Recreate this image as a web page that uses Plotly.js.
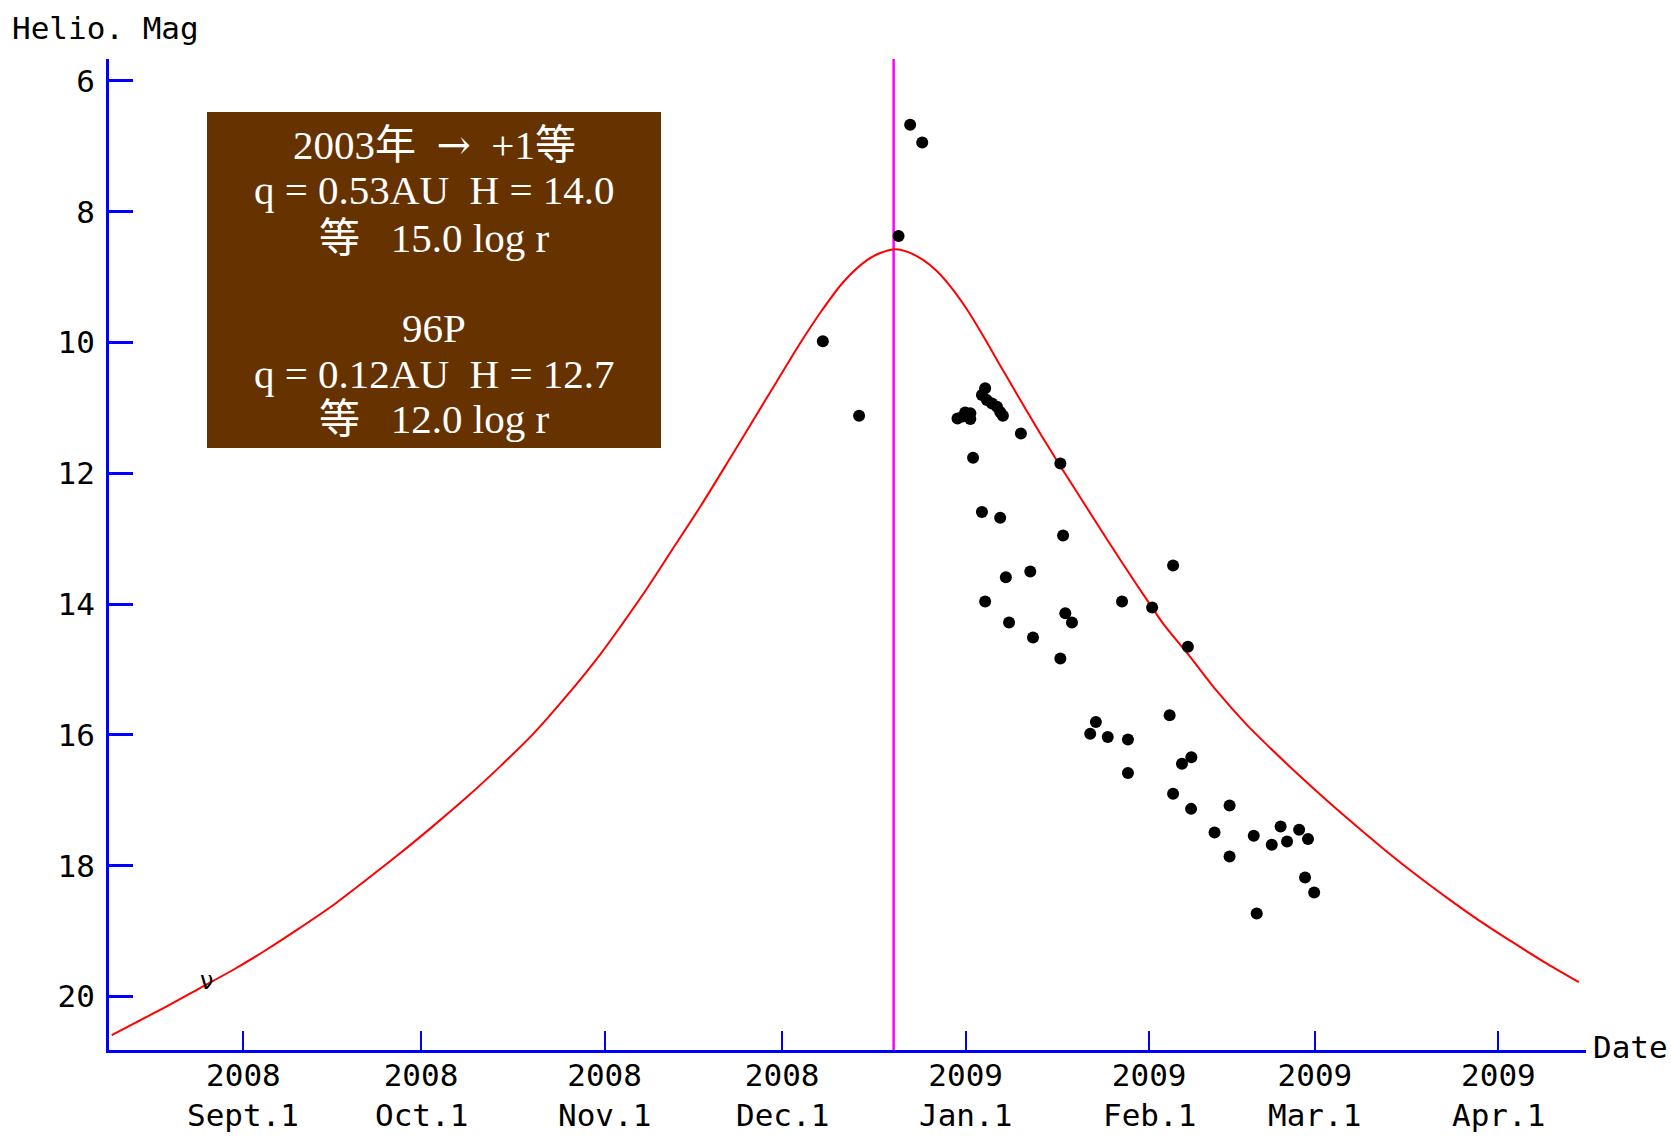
<!DOCTYPE html>
<html>
<head>
<meta charset="utf-8">
<script src="https://cdn.plot.ly/plotly-3.0.1.min.js"></script>
<style>html,body{margin:0;padding:0;background:#fff;}#chart{width:1671px;height:1139px;}</style>
</head>
<body>
<div id="chart"></div>
<script>
// ---- data ----
const curveDates = ["2008-08-09 18:00","2008-08-13 23:00","2008-08-19 01:00","2008-08-24 16:00","2008-08-30 07:00",
  "2008-09-04 23:00","2008-09-10 13:00","2008-09-16 05:00","2008-09-21 20:00","2008-09-27 11:00",
  "2008-10-03 02:00","2008-10-08 18:00","2008-10-14 09:00","2008-10-20 00:00","2008-10-25 15:00",
  "2008-10-31 06:00","2008-11-03 15:00","2008-11-08 04:00","2008-11-12 22:00","2008-11-17 04:00",
  "2008-11-21 16:00","2008-11-26 04:00","2008-11-30 03:00","2008-12-04 01:00","2008-12-07 17:00",
  "2008-12-11 09:00","2008-12-15 08:00","2008-12-17 14:00","2008-12-19 20:00","2008-12-22 02:00",
  "2008-12-24 21:00","2008-12-27 04:00","2008-12-29 10:00","2009-01-01 05:00","2009-01-04 01:00",
  "2009-01-06 20:00","2009-01-09 16:00","2009-01-12 11:00","2009-01-15 07:00","2009-01-17 00:00",
  "2009-01-20 16:00","2009-01-25 04:00","2009-01-29 23:00","2009-02-01 12:00","2009-02-03 11:00",
  "2009-02-07 23:00","2009-02-12 11:00","2009-02-17 13:00","2009-02-21 11:00","2009-02-26 00:00",
  "2009-03-02 12:00","2009-03-06 10:00","2009-03-12 01:00","2009-03-17 17:00","2009-03-23 08:00",
  "2009-03-28 23:00","2009-04-03 14:00","2009-04-09 06:00","2009-04-14 14:00"];
const curveMag = [20.59,20.39,20.15,19.87,19.59,
  19.28,18.95,18.60,18.21,17.81,
  17.39,16.95,16.48,15.98,15.40,
  14.77,14.35,13.76,13.10,12.51,
  11.85,11.18,10.59,10.01,9.51,
  9.07,8.74,8.63,8.575,8.61,
  8.74,8.91,9.14,9.49,9.91,
  10.35,10.79,11.22,11.64,11.89,
  12.41,13.05,13.71,14.05,14.31,
  14.81,15.33,15.85,16.20,16.59,
  16.96,17.27,17.70,18.11,18.49,
  18.85,19.18,19.50,19.78];

const obsDates = ["2008-12-07 21:00","2008-12-14 00:00","2008-12-20 16:00","2008-12-22 15:00","2008-12-24 16:00",
  "2008-12-30 15:00","2008-12-31 13:00","2008-12-31 22:00","2009-01-01 19:00","2009-01-01 19:00",
  "2009-01-02 06:00","2009-01-03 18:00","2009-01-03 18:00","2009-01-04 07:00","2009-01-04 07:00",
  "2009-01-04 14:00","2009-01-05 11:00","2009-01-06 07:00","2009-01-06 20:00","2009-01-06 20:00",
  "2009-01-07 07:00","2009-01-07 19:00","2009-01-08 08:00","2009-01-10 08:00","2009-01-11 22:00",
  "2009-01-12 09:00","2009-01-17 00:00","2009-01-17 00:00","2009-01-17 11:00","2009-01-17 20:00",
  "2009-01-18 23:00","2009-01-22 01:00","2009-01-23 00:00","2009-01-25 00:00","2009-01-27 10:00",
  "2009-01-28 10:00","2009-01-28 10:00","2009-02-01 12:00","2009-02-04 11:00","2009-02-05 01:00",
  "2009-02-05 01:00","2009-02-06 13:00","2009-02-07 13:00","2009-02-08 02:00","2009-02-08 03:00",
  "2009-02-12 01:00","2009-02-14 14:00","2009-02-14 14:00","2009-02-18 16:00","2009-02-19 04:00",
  "2009-02-21 17:00","2009-02-23 05:00","2009-02-24 07:00","2009-02-26 08:00","2009-02-27 08:00",
  "2009-02-27 20:00","2009-02-28 21:00"];
const obsMag = [9.98,11.12,8.37,6.67,6.94,
  11.16,11.13,11.07,11.08,11.17,
  11.76,10.80,12.59,10.70,13.96,
  10.88,10.93,10.98,11.06,12.68,
  11.12,13.59,14.28,11.39,13.50,
  14.51,11.85,14.83,12.95,14.14,
  14.28,15.98,15.80,16.03,13.96,
  16.07,16.58,14.05,15.70,13.41,
  16.90,16.44,14.65,17.13,16.34,
  17.49,17.08,17.86,17.54,18.73,
  17.68,17.40,17.63,17.45,18.18,
  17.59,18.41];

const perihelionDate = "2008-12-19 20:00";
const vMarkDate = ["2008-08-25 20:00"];
const vMarkMag = [19.76];

const yTickVals = [6,8,10,12,14,16,18,20];
const xTickDates = ["2008-09-01","2008-10-01","2008-11-01","2008-12-01","2009-01-01","2009-02-01","2009-03-01","2009-04-01"];
const xTickYears = ["2008","2008","2008","2008","2009","2009","2009","2009"];
const xTickMonths = ["Sept.1","Oct.1","Nov.1","Dec.1","Jan.1","Feb.1","Mar.1","Apr.1"];

const arrowSpan = '<span style="font-family:DejaVu Serif">→</span>';
const noteLines = ["2003年\u00A0\u00A0" + arrowSpan + "\u00A0\u00A0+1等",
  "q = 0.53AU\u00A0\u00A0H = 14.0",
  "等\u00A0\u00A0\u00A015.0 log r",
  "96P",
  "q = 0.12AU\u00A0\u00A0H = 12.7",
  "等\u00A0\u00A0\u00A012.0 log r"];

// ---- layout geometry ----
const W = 1671, H = 1139;
const M = {l:109, r:85, t:59, b:89};
const PW = W - M.l - M.r, PH = H - M.t - M.b;
const px2x = px => (px - M.l) / PW;
const py2y = py => 1 - (py - M.t) / PH;
const noteLineY = [145, 190, 238, 328, 374, 419];

const monoFont = '"DejaVu Sans Mono", "Liberation Mono", monospace';
const serifFont = '"Liberation Serif", "Noto Sans CJK JP", serif';
const blue = '#0000FF';
const axisFontSize = 31;

const traces = [
  {x: curveDates, y: curveMag, type: 'scatter', mode: 'lines',
   line: {color: '#FF0000', width: 2, shape: 'spline', smoothing: 0.8}, hoverinfo: 'skip'},
  {x: obsDates, y: obsMag, type: 'scatter', mode: 'markers',
   marker: {color: '#000000', size: 12, symbol: 'circle'}, hoverinfo: 'skip'}
];

const annotations = [];
annotations.push({xref:'paper', yref:'paper', x: px2x(105), y: py2y(28), text:'Helio. Mag',
  showarrow:false, xanchor:'center', yanchor:'middle', font:{family:monoFont, size:axisFontSize, color:'#000'}});
annotations.push({xref:'paper', yref:'paper', x: px2x(1631), y: py2y(1047), text:'Date',
  showarrow:false, xanchor:'center', yanchor:'middle', font:{family:monoFont, size:axisFontSize, color:'#000'}});
xTickDates.forEach((d, i) => {
  annotations.push({xref:'x', yref:'paper', x: d, y: py2y(1115), text: xTickMonths[i],
    showarrow:false, xanchor:'center', yanchor:'middle', font:{family:monoFont, size:axisFontSize, color:'#000'}});
});
noteLines.forEach((t, i) => {
  annotations.push({xref:'paper', yref:'paper', x: px2x(434), y: py2y(noteLineY[i]), text: t,
    showarrow:false, xanchor:'center', yanchor:'middle', font:{family:serifFont, size:41, color:'#FFFFFF'}});
});
annotations.push({xref:'x', yref:'y', x: vMarkDate[0], y: vMarkMag[0], text:'ν',
  showarrow:false, xanchor:'center', yanchor:'middle', font:{family:'"DejaVu Sans", sans-serif', size:24, color:'#000'}});

const layout = {
  width: W, height: H,
  margin: {l: M.l, r: M.r, t: M.t, b: M.b, pad: 0},
  paper_bgcolor: '#FFFFFF', plot_bgcolor: '#FFFFFF',
  showlegend: false,
  xaxis: {
    type: 'date', range: ['2008-08-09 07:00', '2009-04-15 19:00'],
    showline: true, linecolor: blue, linewidth: 3, mirror: false,
    ticks: 'inside', ticklen: 19, tickwidth: 2, tickcolor: blue,
    tickmode: 'array', tickvals: xTickDates, ticktext: xTickYears,
    ticklabelstandoff: -4,
    tickfont: {family: monoFont, size: axisFontSize, color: '#000'},
    showgrid: false, zeroline: false, fixedrange: true
  },
  yaxis: {
    range: [20.817, 5.664],
    showline: true, linecolor: blue, linewidth: 3, mirror: false,
    ticks: 'inside', ticklen: 24, tickwidth: 3, tickcolor: blue,
    tickmode: 'array', tickvals: yTickVals, ticktext: yTickVals.map(String),
    ticklabelstandoff: 5,
    tickfont: {family: monoFont, size: axisFontSize, color: '#000'},
    showgrid: false, zeroline: false, fixedrange: true
  },
  shapes: [
    {type:'line', xref:'x', yref:'paper', x0: perihelionDate, x1: perihelionDate, y0: 0, y1: 1,
     line:{color:'#FF00FF', width: 2.5}, layer:'below'},
    {type:'rect', xref:'paper', yref:'paper', x0: px2x(207), x1: px2x(661), y0: py2y(448), y1: py2y(112),
     fillcolor:'#663300', line:{width:0}, layer:'above'}
  ],
  annotations: annotations
};

Plotly.newPlot('chart', traces, layout, {displayModeBar: false, staticPlot: true});
</script>
</body>
</html>
